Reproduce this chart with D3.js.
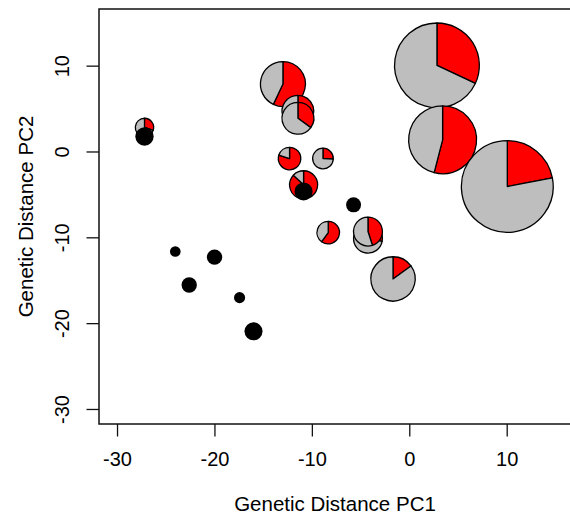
<!DOCTYPE html>
<html>
<head>
<meta charset="utf-8">
<script src="https://cdn.jsdelivr.net/npm/d3@7"></script>
<style>
  body { margin: 0; background: #fff; }
  text { font-family: "Liberation Sans", Arial, sans-serif; fill: #000; }
</style>
</head>
<body>
<div id="chart"></div>
<script>
// Data
// ============================================================================
// pies: position on the two PCs, sample size and the red share
const pieX   = [-27.18, -12.97, -11.43, -11.43, -12.29, -8.86, -10.85, -8.32, -4.24, -4.24, -1.67, 2.84, 3.42, 10.06];
const pieY   = [2.80, 7.86, 4.69, 3.87, -0.82, -0.82, -3.88, -9.45, -10.16, -9.33, -14.85, 10.03, 1.36, -4.08];
const pieN   = [3, 18, 9, 9, 4.5, 3.8, 7, 4.5, 7.4, 7.4, 17.5, 64, 41, 75];
const pieRed = [0.30, 0.57, 0.40, 0.35, 0.80, 0.26, 0.87, 0.60, 0.28, 0.45, 0.15, 0.32, 0.54, 0.22];

// black dots
const dotX = [-27.18, -10.85, -24.02, -19.99, -22.59, -17.42, -15.99, -5.72];
const dotY = [1.75, -4.66, -11.66, -12.31, -15.55, -17.03, -20.95, -6.22];
const dotN = [3, 2.9, 1, 2.1, 2.1, 1.1, 2.9, 2];

const xTicks = [-30, -20, -10, 0, 10],
      yTicks = [-30, -20, -10, 0, 10];

const width = 570, height = 515;

// Plot
// ============================================================================
const svg = d3.select("#chart")
    .append("svg")
        .attr("width", width)
        .attr("height", height);

const xScale = d3.scaleLinear()
    .domain([-31.85, 16.6])
    .range([99, 571]);

const yScale = d3.scaleLinear()
    .domain([-31.75, 16.6])
    .range([424, 9]);

const rScale = d3.scaleSqrt()
    .domain([0, 1])
    .range([0, 5.3]);

// Box
svg.append("rect")
    .attr("x", xScale.range()[0])
    .attr("y", yScale.range()[1])
    .attr("width", xScale.range()[1] - xScale.range()[0])
    .attr("height", yScale.range()[0] - yScale.range()[1])
    .attr("fill", "none")
    .attr("stroke", "#111")
    .attr("stroke-width", 1.5);

// Axes (plain hyphen minus, like R)
const fmt = d => String(d);

const xAxis = svg.append("g")
    .attr("transform", "translate(0," + yScale.range()[0] + ")")
    .call(d3.axisBottom(xScale).tickValues(xTicks).tickSize(12.5).tickPadding(15).tickFormat(fmt));

const yAxis = svg.append("g")
    .attr("transform", "translate(" + xScale.range()[0] + ",0)")
    .call(d3.axisLeft(yScale).tickValues(yTicks).tickSize(12.5).tickFormat(fmt));

[xAxis, yAxis].forEach(a => {
    a.select(".domain").remove();
    a.selectAll(".tick line").attr("stroke", "#111").attr("stroke-width", 1.3);
    a.selectAll(".tick text")
        .style("font-family", "'Liberation Sans', Arial, sans-serif")
        .style("font-size", "20px")
        .attr("fill", "#000");
});

// y tick labels are rotated like R's default
yAxis.selectAll(".tick text")
    .attr("x", null)
    .attr("dy", null)
    .attr("text-anchor", "middle")
    .attr("transform", "translate(-37,0) rotate(-90)")
    .attr("dominant-baseline", "central");

// Pies
const pieData = pieX.map((x, i) => ({x: x, y: pieY[i], n: pieN[i], red: pieRed[i]}));
const pie = d3.pie().sort(null).value(d => d);
const colors = ["#FF0000", "#BEBEBE"];

pieData.forEach(d => {
    const r = rScale(d.n);
    const arc = d3.arc().innerRadius(0).outerRadius(r);
    const g = svg.append("g")
        .attr("transform", "translate(" + xScale(d.x) + "," + yScale(d.y) + ")");
    g.selectAll("path")
        .data(pie([d.red, 1 - d.red]))
        .enter()
        .append("path")
            .attr("d", arc)
            .attr("fill", (s, i) => colors[i])
            .attr("stroke", "#000")
            .attr("stroke-width", 1.3)
            .attr("stroke-linejoin", "round");
});

// Black dots
svg.selectAll("circle.dot")
    .data(dotX.map((x, i) => ({x: x, y: dotY[i], n: dotN[i]})))
    .enter()
    .append("circle")
        .attr("class", "dot")
        .attr("cx", d => xScale(d.x))
        .attr("cy", d => yScale(d.y))
        .attr("r", d => rScale(d.n))
        .attr("fill", "#000");

// Titles
svg.append("text")
    .attr("x", (xScale.range()[0] + xScale.range()[1]) / 2)
    .attr("y", 503)
    .attr("text-anchor", "middle")
    .attr("dominant-baseline", "central")
    .style("font-size", "20.5px")
    .text("Genetic Distance PC1");

svg.append("text")
    .attr("transform", "translate(25," + (yScale.range()[0] + yScale.range()[1]) / 2 + ") rotate(-90)")
    .attr("text-anchor", "middle")
    .attr("dominant-baseline", "central")
    .style("font-size", "20.5px")
    .text("Genetic Distance PC2");
</script>
</body>
</html>
